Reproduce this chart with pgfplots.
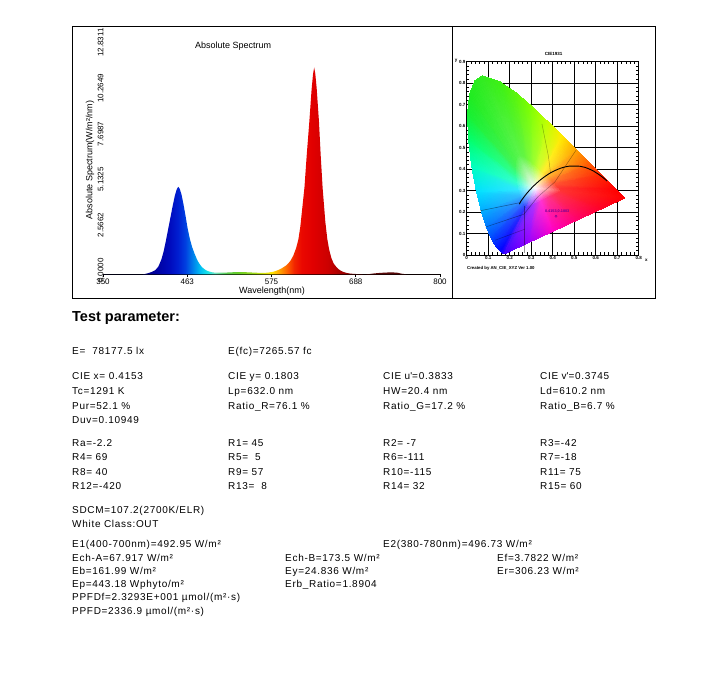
\documentclass[border=0pt]{standalone}
\usepackage{fontspec}
\setmainfont{Liberation Sans}
\newfontfamily\tracked[LetterSpace=7]{Liberation Sans}
\usepackage{pgfplots}
\pgfplotsset{compat=1.18}
\pgfdeclarehorizontalshading{spectrum}{100bp}{%
rgb(0bp)=(0,0,0.5); rgb(25bp)=(0,0,0.5); rgb(30.556bp)=(0,0,0.5);
rgb(32.778bp)=(0,0,0.62); rgb(35bp)=(0,0.05,0.75); rgb(36.111bp)=(0,0.12,0.82);
rgb(37.222bp)=(0,0.25,0.88); rgb(38.333bp)=(0,0.5,0.92); rgb(39.444bp)=(0,0.75,0.95);
rgb(40.556bp)=(0.1,0.9,0.9); rgb(41.667bp)=(0.45,0.9,0.75); rgb(43.333bp)=(0.35,0.8,0.3);
rgb(45bp)=(0.4,0.8,0.15); rgb(47.222bp)=(0.6,0.85,0.1); rgb(48.889bp)=(0.85,0.9,0.05);
rgb(50bp)=(1,0.9,0); rgb(51.111bp)=(1,0.65,0); rgb(52.222bp)=(1,0.4,0);
rgb(53.333bp)=(0.95,0.15,0); rgb(54.444bp)=(0.92,0.03,0); rgb(56.111bp)=(0.88,0,0);
rgb(58.333bp)=(0.8,0,0); rgb(60.556bp)=(0.62,0,0); rgb(62.778bp)=(0.45,0,0);
rgb(66.111bp)=(0.35,0.03,0.03); rgb(75bp)=(0.3,0.02,0.02); rgb(100bp)=(0.3,0.02,0.02)}
\definecolor{ptlabel}{RGB}{110,0,150}
\begin{document}
\begin{tikzpicture}
\useasboundingbox (0,0) rectangle (724pt,680pt);
\fill[white] (0,0) rectangle (724pt,680pt);
% frames
\draw[black, line width=0.9pt] (72pt,382pt) rectangle (452pt,654pt);
\draw[black, line width=0.9pt] (452pt,382pt) rectangle (655pt,654pt);

% ---------------- spectrum ----------------
\begin{axis}[
  at={(103pt,405.5pt)}, anchor=south west, scale only axis,
  width=337pt, height=227.8pt,
  xmin=350, xmax=800, ymin=0, ymax=12.8311,
  axis x line*=bottom, axis y line*=left,
  y axis line style={draw=none},
  x axis line style={black, line width=0.8pt, -},
  xtick={350,462.5,575,687.5,800}, xticklabels={350,463,575,688,800},
  ytick={0,2.5662,5.1325,7.6987,10.2649,12.8311},
  yticklabels={0.0000,2.5662,5.1325,7.6987,10.2649,12.8311},
  ytick style={draw=none},
  xtick style={black, line width=0.6pt},
  tick align=outside, major tick length=3pt,
  xticklabel style={font=\fontsize{8}{9}\selectfont, inner sep=1pt},
  yticklabel style={font=\fontsize{8}{9}\selectfont, xshift=7pt, yshift=4pt, rotate=90, anchor=south},
  title={Absolute Spectrum},
  title style={at={(axis description cs:0.386,0.977)}, anchor=center, font=\fontsize{9}{10}\selectfont},
  xlabel={Wavelength(nm)},
  every axis x label/.style={at={(axis description cs:0.5015,0)}, anchor=center, yshift=-16.5pt, font=\fontsize{9}{10}\selectfont},
  ylabel={Absolute Spectrum(W/m²/nm)},
  every axis y label/.style={at={(axis description cs:0,0.503)}, anchor=center, xshift=-13pt, rotate=90, font=\fontsize{9}{10}\selectfont},
]
\addplot[draw=none, shade, shading=spectrum] table {
x y
350 0
400 0
405 0.02
410 0.07
415 0.14
420 0.25
424 0.45
428 0.85
431 1.3
434 1.9
437 2.55
440 3.2
443 3.85
446 4.45
448.5 4.8
450.5 4.94
452.5 4.82
455 4.48
457.5 3.95
460 3.35
463 2.6
466 2.0
469 1.55
472 1.2
475 0.9
478 0.65
482 0.42
486 0.28
490 0.19
495 0.13
500 0.1
510 0.1
520 0.12
530 0.14
540 0.13
550 0.11
560 0.09
570 0.1
578 0.16
584 0.25
590 0.38
595 0.52
600 0.75
604 1.05
608 1.5
611 2.0
613.5 2.7
616 3.7
619 4.9
622 6.7
625.5 8.6
628.5 10.4
630.5 11.3
632 11.66
633.5 11.3
635.3 10.5
638.4 8.6
640.7 6.7
643.3 4.85
646.9 2.96
649.5 2.0
652 1.4
655 0.92
658 0.62
662 0.4
666 0.25
670 0.16
675 0.09
680 0.05
690 0.02
700 0.01
705 0.02
712 0.06
720 0.09
728 0.11
736 0.12
743 0.1
748 0.05
755 0.01
765 0
800 0
} \closedcycle;
\end{axis}

% ---------------- CIE 1931 ----------------
\begin{axis}[
  at={(466.7pt,425pt)}, anchor=south west, scale only axis,
  width=172pt, height=193.3pt,
  xmin=0, xmax=0.8, ymin=0, ymax=0.9,
  xtick={0,0.1,0.2,0.3,0.4,0.5,0.6,0.7,0.8},
  xticklabels={0,0.1,0.2,0.3,0.4,0.5,0.6,0.7,0.8},
  ytick={0,0.1,0.2,0.3,0.4,0.5,0.6,0.7,0.8,0.9},
  yticklabels={0,0.1,0.2,0.3,0.4,0.5,0.6,0.7,0.8,0.9},
  minor x tick num=4, minor y tick num=4,
  grid=major, major grid style={black, line width=0.9pt},
  axis line style={black, line width=0.9pt},
  tick style={black, line width=0.6pt},
  tick align=inside, major tick length=4pt, minor tick length=2.5pt,
  tick label style={font=\bfseries\fontsize{4.5}{5}\selectfont, inner sep=1pt},
]
\addplot[patch, shader=interp, mesh/color input=explicit, point meta=explicit symbolic,
  table/row sep=\\,
  patch table={
0 1 2\\ 1 28 29\\ 1 29 2\\
0 2 3\\ 2 29 30\\ 2 30 3\\
0 3 4\\ 3 30 31\\ 3 31 4\\
0 4 5\\ 4 31 32\\ 4 32 5\\
0 5 6\\ 5 32 33\\ 5 33 6\\
0 6 7\\ 6 33 34\\ 6 34 7\\
0 7 8\\ 7 34 35\\ 7 35 8\\
0 8 9\\ 8 35 36\\ 8 36 9\\
0 9 10\\ 9 36 37\\ 9 37 10\\
0 10 11\\ 10 37 38\\ 10 38 11\\
0 11 12\\ 11 38 39\\ 11 39 12\\
0 12 13\\ 12 39 40\\ 12 40 13\\
0 13 14\\ 13 40 41\\ 13 41 14\\
0 14 15\\ 14 41 42\\ 14 42 15\\
0 15 16\\ 15 42 43\\ 15 43 16\\
0 16 17\\ 16 43 44\\ 16 44 17\\
0 17 18\\ 17 44 45\\ 17 45 18\\
0 18 19\\ 18 45 46\\ 18 46 19\\
0 19 20\\ 19 46 47\\ 19 47 20\\
0 20 21\\ 20 47 48\\ 20 48 21\\
0 21 22\\ 21 48 49\\ 21 49 22\\
0 22 23\\ 22 49 50\\ 22 50 23\\
0 23 24\\ 23 50 51\\ 23 51 24\\
0 24 25\\ 24 51 52\\ 24 52 25\\
0 25 26\\ 25 52 53\\ 25 53 26\\
0 26 27\\ 26 53 54\\ 26 54 27\\
0 27 1\\ 27 54 28\\ 27 28 1\\
  }] table[meta=c] {
x y c\\
0.32 0.31 rgb255=255,250,255\\
0.2762 0.2185 rgb255=99,51,255\\
0.2710 0.2223 rgb255=51,51,255\\
0.2647 0.2290 rgb255=51,75,255\\
0.2569 0.2430 rgb255=51,115,255\\
0.2514 0.2568 rgb255=51,147,255\\
0.2446 0.2772 rgb255=51,187,255\\
0.2376 0.3055 rgb255=51,231,255\\
0.2311 0.3408 rgb255=51,255,203\\
0.2265 0.3785 rgb255=51,255,139\\
0.2252 0.4134 rgb255=67,245,91\\
0.2282 0.4421 rgb255=75,245,75\\
0.2357 0.4606 rgb255=83,245,75\\
0.2463 0.4671 rgb255=91,245,75\\
0.2704 0.4588 rgb255=99,245,67\\
0.2929 0.4433 rgb255=123,250,59\\
0.3145 0.4247 rgb255=155,255,51\\
0.3359 0.4044 rgb255=203,255,51\\
0.3572 0.3834 rgb255=255,239,51\\
0.3778 0.3630 rgb255=255,179,51\\
0.3966 0.3443 rgb255=255,123,51\\
0.4121 0.3288 rgb255=255,83,51\\
0.4315 0.3095 rgb255=255,51,51\\
0.4444 0.2966 rgb255=255,51,51\\
0.4108 0.2810 rgb255=255,51,83\\
0.3772 0.2654 rgb255=255,51,139\\
0.3435 0.2497 rgb255=255,51,211\\
0.3099 0.2341 rgb255=171,51,255\\
0.1741 0.0050 rgb255=60,0,255\\
0.1566 0.0177 rgb255=0,0,255\\
0.1355 0.0399 rgb255=0,30,255\\
0.1096 0.0868 rgb255=0,80,255\\
0.0913 0.1327 rgb255=0,120,255\\
0.0687 0.2007 rgb255=0,170,255\\
0.0454 0.2950 rgb255=0,225,255\\
0.0235 0.4127 rgb255=0,255,190\\
0.0082 0.5384 rgb255=0,255,110\\
0.0039 0.6548 rgb255=20,240,50\\
0.0139 0.7502 rgb255=30,235,30\\
0.0389 0.8120 rgb255=40,235,30\\
0.0743 0.8338 rgb255=50,235,30\\
0.1547 0.8059 rgb255=60,240,20\\
0.2296 0.7543 rgb255=90,245,10\\
0.3016 0.6923 rgb255=130,255,0\\
0.3731 0.6245 rgb255=190,255,0\\
0.4441 0.5547 rgb255=255,235,0\\
0.5125 0.4866 rgb255=255,160,0\\
0.5752 0.4242 rgb255=255,90,0\\
0.6270 0.3725 rgb255=255,40,0\\
0.6915 0.3083 rgb255=255,0,0\\
0.7347 0.2653 rgb255=255,0,0\\
0.6226 0.2132 rgb255=255,0,40\\
0.5105 0.1612 rgb255=255,0,110\\
0.3983 0.1091 rgb255=255,0,200\\
0.2862 0.0571 rgb255=150,0,255\\
};
% isotemperature lines
\addplot[black, opacity=0.45, line width=0.5pt] coordinates {(0.063,0.206) (0.25,0.244)};
\addplot[black, opacity=0.4, line width=0.5pt] coordinates {(0.087,0.13) (0.266,0.19) (0.33,0.27)};
\addplot[black, opacity=0.4, line width=0.5pt] coordinates {(0.266,0.23) (0.266,0.01)};
\addplot[black, opacity=0.35, line width=0.5pt] coordinates {(0.133,0.069) (0.27,0.12)};
\addplot[black, opacity=0.35, line width=0.5pt] coordinates {(0.33,0.27) (0.41,0.34) (0.51,0.49)};
\addplot[black, opacity=0.3, line width=0.5pt] coordinates {(0.35,0.61) (0.38,0.46) (0.39,0.38)};
% Planckian locus
\addplot[black, line width=0.9pt, smooth] coordinates {
(0.245,0.237) (0.253,0.252) (0.264,0.267) (0.2807,0.2884) (0.2952,0.3048)
(0.3135,0.3236) (0.3451,0.3516) (0.3805,0.3768) (0.4053,0.3907) (0.4369,0.4041)
(0.4599,0.4106) (0.4770,0.4137) (0.5267,0.4133) (0.5497,0.4081) (0.5857,0.3931)
(0.6251,0.3674) (0.6528,0.3444)};
% measured point
\addplot[ptlabel, only marks, mark=o, mark size=1.1pt, mark options={line width=0.4pt}] coordinates {(0.4153,0.1803)};
\node[text=ptlabel, font=\bfseries\fontsize{3.8}{4}\selectfont, anchor=center] at (axis cs:0.421,0.201) {0.4153,0.1803};
\end{axis}
\node[font=\bfseries\fontsize{4.5}{5}\selectfont] at (553.7pt,626pt) {CIE1931};
\node[font=\bfseries\fontsize{4.5}{5}\selectfont] at (456pt,619pt) {y};
\node[font=\bfseries\fontsize{4.5}{5}\selectfont] at (646.3pt,419.5pt) {x};
\node[font=\bfseries\fontsize{4.3}{5}\selectfont, anchor=west, inner sep=0pt] at (467pt,411.7pt) {Created by AN\_CIE\_XYZ Ver 1.00};

% ---------------- text ----------------
\node[font=\bfseries\fontsize{14.5}{16}\selectfont, anchor=base west, inner sep=0pt] at (72pt,358.1pt) {Test parameter:};
\begin{scope}[every node/.style={font=\tracked\fontsize{10}{12}\selectfont, anchor=base west, inner sep=0pt}]
\node at (72pt,325.4pt) {E=\ \ 78177.5 lx};
\node at (228pt,325.4pt) {E(fc)=7265.57 fc};
\node at (72pt,300.4pt) {CIE x= 0.4153};
\node at (228pt,300.4pt) {CIE y= 0.1803};
\node at (383pt,300.4pt) {CIE u\textquotesingle=0.3833};
\node at (540pt,300.4pt) {CIE v\textquotesingle=0.3745};
\node at (72pt,285.4pt) {Tc=1291 K};
\node at (228pt,285.4pt) {Lp=632.0 nm};
\node at (383pt,285.4pt) {HW=20.4 nm};
\node at (540pt,285.4pt) {Ld=610.2 nm};
\node at (72pt,270.4pt) {Pur=52.1 \%};
\node at (228pt,270.4pt) {Ratio\_R=76.1 \%};
\node at (383pt,270.4pt) {Ratio\_G=17.2 \%};
\node at (540pt,270.4pt) {Ratio\_B=6.7 \%};
\node at (72pt,256.4pt) {Duv=0.10949};
\node at (72pt,233.4pt) {Ra=-2.2};
\node at (228pt,233.4pt) {R1= 45};
\node at (383pt,233.4pt) {R2= -7};
\node at (540pt,233.4pt) {R3=-42};
\node at (72pt,219.4pt) {R4= 69};
\node at (228pt,219.4pt) {R5=\ \ 5};
\node at (383pt,219.4pt) {R6=-111};
\node at (540pt,219.4pt) {R7=-18};
\node at (72pt,204.9pt) {R8= 40};
\node at (228pt,204.9pt) {R9= 57};
\node at (383pt,204.9pt) {R10=-115};
\node at (540pt,204.9pt) {R11= 75};
\node at (72pt,190.4pt) {R12=-420};
\node at (228pt,190.4pt) {R13=\ \ 8};
\node at (383pt,190.4pt) {R14= 32};
\node at (540pt,190.4pt) {R15= 60};
\node at (72pt,166.4pt) {SDCM=107.2(2700K/ELR)};
\node at (72pt,152.4pt) {White Class:OUT};
\node at (72pt,132.4pt) {E1(400-700nm)=492.95 W/m²};
\node at (383pt,132.4pt) {E2(380-780nm)=496.73 W/m²};
\node at (72pt,118.4pt) {Ech-A=67.917 W/m²};
\node at (285pt,118.4pt) {Ech-B=173.5 W/m²};
\node at (497pt,118.4pt) {Ef=3.7822 W/m²};
\node at (72pt,105.4pt) {Eb=161.99 W/m²};
\node at (285pt,105.4pt) {Ey=24.836 W/m²};
\node at (497pt,105.4pt) {Er=306.23 W/m²};
\node at (72pt,92.4pt) {Ep=443.18 Wphyto/m²};
\node at (285pt,92.4pt) {Erb\_Ratio=1.8904};
\node at (72pt,79.4pt) {PPFDf=2.3293E+001 µmol/(m²·s)};
\node at (72pt,65.4pt) {PPFD=2336.9 µmol/(m²·s)};
\end{scope}
\end{tikzpicture}
\end{document}
